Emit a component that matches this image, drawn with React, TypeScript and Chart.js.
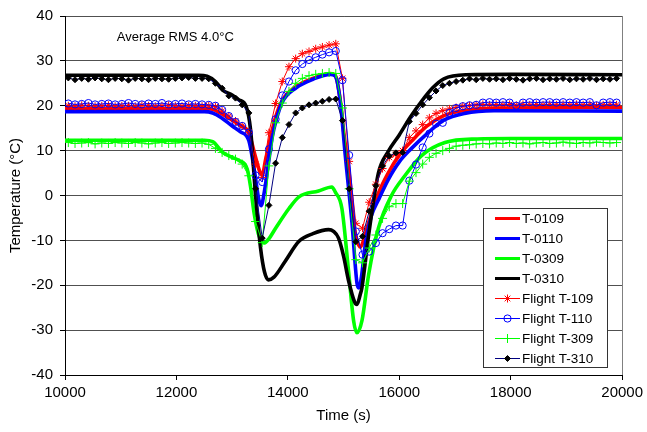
import React, { useEffect, useRef } from 'react';
import { Chart, registerables } from 'chart.js';
import { drawPoint } from 'chart.js/helpers';

Chart.register(...registerables);

const FONT = "'Liberation Sans', Arial, sans-serif";

// ---- Axis ticks ----
const xTickValues = [10000, 12000, 14000, 16000, 18000, 20000];
const yTickValues = [-40, -30, -20, -10, 0, 10, 20, 30, 40];

// ---- Model curves (thick lines) ----
const t0109Times = [10000, 12500, 12650, 12800, 13000, 13150, 13300, 13400, 13500, 13540, 13600, 13680, 13780, 13900, 14150, 14450, 14760, 14850, 14940, 15000, 15090, 15150, 15230, 15300, 15370, 15450, 15625, 15800, 16000, 16250, 16500, 16800, 17200, 17700, 20000];
const t0109Temps = [19.4, 19.4, 19.2, 18.3, 16.8, 15.6, 14.0, 9.5, 5.2, 4.6, 8.0, 12.5, 17.5, 21.2, 24.3, 26.1, 27.2, 26.8, 21.3, 14.5, 5.5, -3.0, -9.5, -11.5, -9.5, -6.0, 0.5, 5.0, 9.0, 12.5, 15.5, 17.8, 19.0, 19.5, 19.6];

const t0110Times = [10000, 12500, 12650, 12800, 13000, 13150, 13300, 13400, 13480, 13520, 13580, 13650, 13720, 13800, 13900, 14150, 14450, 14760, 14850, 14940, 15030, 15150, 15240, 15270, 15310, 15400, 15500, 15625, 15800, 16000, 16220, 16500, 16800, 17170, 17700, 20000];
const t0110Temps = [18.7, 18.7, 18.4, 17.4, 15.5, 14.2, 12.2, 5.5, -1.0, -2.3, 1.0, 7.0, 13.0, 17.2, 20.8, 24.0, 25.9, 27.0, 26.6, 21.0, 9.0, -6.0, -19.5, -20.6, -19.0, -10.0, -4.5, -1.0, 3.5, 7.5, 10.5, 13.8, 16.8, 18.3, 18.9, 18.8];

const t0309Times = [10000, 12500, 12650, 12830, 13000, 13125, 13270, 13330, 13390, 13470, 13570, 13650, 13780, 14020, 14200, 14550, 14790, 14850, 14970, 15090, 15180, 15240, 15330, 15450, 15625, 15860, 16100, 16400, 16820, 17400, 18000, 20000];
const t0309Temps = [12.3, 12.3, 12.0, 9.6, 8.5, 7.8, 5.9, 2.0, -3.6, -8.5, -10.6, -9.8, -7.3, -2.9, -0.3, 1.0, 1.9, 0.8, -2.9, -16.9, -27.9, -30.6, -27.9, -17.6, -7.3, 0.0, 4.4, 8.9, 11.8, 12.6, 12.7, 12.7];

const t0310Times = [10000, 12400, 12550, 12700, 12830, 13000, 13125, 13250, 13330, 13420, 13510, 13580, 13650, 13750, 13950, 14200, 14450, 14730, 14820, 14910, 15000, 15090, 15200, 15240, 15300, 15330, 15450, 15625, 15800, 16000, 16200, 16400, 16600, 16800, 17200, 18000, 20000];
const t0310Temps = [26.8, 26.8, 26.6, 25.4, 23.5, 22.4, 21.3, 19.9, 14.7, 0.1, -11.7, -17.0, -18.8, -18.2, -14.7, -10.2, -8.5, -7.6, -8.0, -9.5, -13.5, -19.0, -23.8, -24.3, -22.0, -20.5, -8.8, 5.0, 9.8, 13.5, 17.5, 21.0, 24.0, 26.0, 26.9, 27.0, 26.9];

// ---- Flight measurements (thin lines with markers) ----
const flightTimes = [
  10060, 10180, 10300, 10420, 10540, 10660, 10780, 10900, 11020, 11140,
  11260, 11380, 11500, 11620, 11740, 11860, 11980, 12100, 12220, 12340,
  12460, 12580, 12700, 12820, 12940, 13060, 13180, 13300, 13420, 13540,
  13660, 13780, 13900, 14020, 14140, 14260, 14380, 14500, 14620, 14740,
  14860, 14980, 15100, 15220, 15340, 15460, 15580, 15700, 15820, 15940,
  16060, 16180, 16300, 16420, 16540, 16660, 16780, 16900, 17020, 17140,
  17260, 17380, 17500, 17620, 17740, 17860, 17980, 18100, 18220, 18340,
  18460, 18580, 18700, 18820, 18940, 19060, 19180, 19300, 19420, 19540,
  19660, 19780, 19900,
];

const flightT109 = [
  20.0, 19.9, 20.1, 20.0, 19.9, 20.0, 20.1, 19.9, 20.0, 20.0,
  19.9, 20.1, 20.0, 19.9, 20.0, 20.1, 20.0, 19.9, 20.0, 20.0,
  19.9, 20.0, 19.8, 18.8, 17.7, 16.6, 15.5, 14.1, 7.0, 4.0,
  14.0, 20.5, 25.4, 28.7, 30.5, 31.6, 32.1, 32.7, 33.1, 33.5,
  33.8, 26.1, 7.6, -6.2, -7.3, -1.5, 2.5, 6.0, 8.5, 9.2,
  10.0, 12.9, 14.4, 15.8, 17.3, 18.3, 18.9, 19.3, 19.6, 19.9,
  20.0, 20.2, 20.3, 20.2, 20.3, 20.2, 20.3, 20.1, 20.3, 20.2,
  20.3, 20.2, 20.3, 20.2, 20.3, 20.2, 20.3, 20.2, 20.3, 20.0,
  20.2, 20.3, 20.2,
];

const flightT110 = [
  20.5, 20.3, 20.4, 20.6, 20.3, 20.4, 20.5, 20.3, 20.4, 20.6,
  20.4, 20.3, 20.5, 20.4, 20.6, 20.3, 20.4, 20.5, 20.3, 20.4,
  20.3, 20.2, 20.0, 19.1, 17.7, 16.4, 15.5, 14.0, 4.5, 3.0,
  10.3, 17.0, 22.3, 25.4, 27.9, 29.3, 30.2, 30.8, 31.4, 31.9,
  32.2, 25.7, 9.0, -8.0, -13.2, -12.5, -10.6, -8.4, -7.5, -6.7,
  -6.7, 3.3, 6.9, 10.7, 13.8, 16.0, 16.2, 18.4, 19.5, 19.9,
  20.1, 20.2, 20.7, 20.8, 20.7, 20.8, 20.7, 20.0, 20.7, 20.8,
  20.7, 20.8, 20.8, 20.7, 20.8, 20.7, 20.8, 20.7, 20.8, 20.1,
  20.7, 20.8, 20.7,
];

const flightT309 = [
  11.8, 11.6, 11.7, 11.8, 11.5, 11.7, 11.6, 11.8, 11.7, 11.6,
  11.8, 11.7, 11.5, 11.7, 11.8, 11.6, 11.7, 11.8, 11.7, 11.6,
  11.7, 11.4, 10.5, 9.6, 8.9, 8.1, 7.0, 4.4, -5.8, -10.5,
  6.6, 16.2, 20.6, 23.2, 25.0, 26.1, 26.7, 27.0, 27.2, 27.4,
  27.2, 19.5, 1.5, -14.3, -15.0, -11.7, -8.8, -5.1, -2.5, -1.8,
  -1.8, 3.2, 5.1, 7.0, 8.5, 9.4, 10.0, 10.5, 11.0, 11.2,
  11.3, 11.5, 11.6, 11.5, 11.7, 11.6, 11.8, 11.6, 11.7, 11.5,
  11.7, 11.8, 11.6, 11.7, 11.9, 11.7, 11.6, 11.8, 11.7, 11.9,
  11.8, 11.7, 11.8,
];

const flightT310 = [
  26.2, 25.8, 26.1, 25.9, 26.2, 26.0, 25.8, 26.1, 26.0, 25.7,
  26.1, 26.0, 25.8, 26.1, 26.0, 25.9, 26.1, 26.2, 26.3, 26.1,
  26.1, 26.0, 25.0, 23.9, 22.2, 21.7, 20.2, 18.4, 1.5, -9.5,
  -2.2, 7.2, 12.9, 15.8, 18.4, 19.5, 20.2, 20.6, 21.0, 21.4,
  21.5, 16.7, 1.5, -10.3, -9.1, -3.5, 2.2, 6.6, 8.8, 9.5,
  9.6, 16.5, 18.3, 20.2, 21.8, 23.3, 24.5, 25.0, 25.4, 25.7,
  26.0, 25.8, 26.1, 25.9, 26.0, 25.8, 26.1, 25.9, 25.7, 26.0,
  26.1, 25.8, 26.0, 25.9, 26.1, 25.8, 26.0, 25.9, 26.1, 25.8,
  26.0, 25.9, 26.1,
];

const annotationText = 'Average RMS 4.0°C';
const annotationAt = { x: 10930, y: 35.2 };

const toPoints = (xs: number[], ys: number[]) => xs.map((x, i) => ({ x, y: ys[i] }));

const modelDataset = (label: string, xs: number[], ys: number[], color: string) => ({
  label,
  data: toPoints(xs, ys),
  borderColor: color,
  backgroundColor: color,
  borderWidth: 3.6,
  pointRadius: 0,
  pointHoverRadius: 0,
  cubicInterpolationMode: 'monotone',
  fill: false,
  legendLineWidth: 3,
});

const flightDataset = (
  label: string,
  ys: number[],
  lineColor: string,
  markerColor: string,
  style: string,
  radius: number,
  filled: boolean,
) => ({
  label,
  data: toPoints(flightTimes, ys),
  borderColor: lineColor,
  backgroundColor: markerColor,
  borderWidth: 1,
  pointStyle: style,
  pointRadius: radius,
  pointHoverRadius: radius,
  pointBorderColor: markerColor,
  pointBackgroundColor: filled ? markerColor : 'rgba(0,0,0,0)',
  pointBorderWidth: 1,
  tension: 0,
  fill: false,
  legendLineWidth: 1,
});

const frameAndNotes = {
  id: 'frameAndNotes',
  beforeDatasetsDraw(chart: any) {
    const { ctx, chartArea } = chart;
    ctx.save();
    ctx.strokeStyle = '#808080';
    ctx.lineWidth = 1;
    ctx.beginPath();
    ctx.moveTo(Math.round(chartArea.right) + 0.5, chartArea.top);
    ctx.lineTo(Math.round(chartArea.right) + 0.5, chartArea.bottom);
    ctx.stroke();
    ctx.restore();
  },
  afterDraw(chart: any) {
    const { ctx, chartArea } = chart;
    const xs = chart.scales.x;
    const ys = chart.scales.y;
    ctx.save();
    // annotation
    ctx.font = `13px ${FONT}`;
    ctx.fillStyle = '#000';
    ctx.textAlign = 'left';
    ctx.textBaseline = 'middle';
    ctx.fillText(annotationText, xs.getPixelForValue(annotationAt.x), ys.getPixelForValue(annotationAt.y));

    // legend box
    const boxW = 124;
    const boxH = 159;
    const bx = Math.round(chartArea.right) - 15 - boxW;
    const by = Math.round(chartArea.top) + 192;
    ctx.fillStyle = '#fff';
    ctx.fillRect(bx, by, boxW, boxH);
    ctx.strokeStyle = '#333';
    ctx.lineWidth = 1;
    ctx.strokeRect(bx + 0.5, by + 0.5, boxW, boxH);
    const datasets = chart.data.datasets;
    datasets.forEach((ds: any, i: number) => {
      const y = by + 10.5 + i * 20;
      const x1 = bx + 12;
      const x2 = bx + 37;
      ctx.strokeStyle = ds.borderColor;
      ctx.lineWidth = ds.legendLineWidth;
      ctx.beginPath();
      ctx.moveTo(x1, y);
      ctx.lineTo(x2, y);
      ctx.stroke();
      if (ds.pointRadius > 0) {
        ctx.strokeStyle = ds.pointBorderColor;
        ctx.fillStyle = ds.pointBackgroundColor;
        ctx.lineWidth = 1;
        drawPoint(ctx, { pointStyle: ds.pointStyle, rotation: 0, radius: ds.pointRadius, borderWidth: 1 }, (x1 + x2) / 2, y);
      }
      ctx.fillStyle = '#000';
      ctx.font = `13.5px ${FONT}`;
      ctx.textAlign = 'left';
      ctx.textBaseline = 'middle';
      ctx.fillText(ds.label, x2 + 2, y + 0.5);
    });
    ctx.restore();
  },
};

export default function App() {
  const ref = useRef<HTMLCanvasElement>(null);

  useEffect(() => {
    document.body.style.margin = '0';
    const canvas = ref.current;
    if (!canvas) return;

    const datasets: any[] = [
      modelDataset('T-0109', t0109Times, t0109Temps, '#ff0000'),
      modelDataset('T-0110', t0110Times, t0110Temps, '#0000ff'),
      modelDataset('T-0309', t0309Times, t0309Temps, '#00ff00'),
      modelDataset('T-0310', t0310Times, t0310Temps, '#000000'),
      flightDataset('Flight T-109', flightT109, '#ff0000', '#ff0000', 'star', 4, false),
      flightDataset('Flight T-110', flightT110, '#0000ff', '#0000ff', 'circle', 3.6, false),
      flightDataset('Flight T-309', flightT309, '#00ff00', '#00ff00', 'cross', 4.5, false),
      flightDataset('Flight T-310', flightT310, '#000080', '#000000', 'rectRot', 3, true),
    ];
    datasets.forEach((d, i) => {
      d.order = datasets.length - 1 - i;
    });

    const chart = new Chart(canvas, {
      type: 'line',
      data: { datasets },
      plugins: [frameAndNotes],
      options: {
        responsive: false,
        animation: false,
        devicePixelRatio: 1,
        layout: { padding: { top: 12, right: 22, left: 0, bottom: 0 } },
        plugins: {
          legend: { display: false },
          tooltip: { enabled: false },
          title: { display: false },
        },
        scales: {
          x: {
            type: 'linear',
            min: 10000,
            max: 20000,
            afterFit: (scale: any) => {
              scale.height = 57;
            },
            afterBuildTicks: (scale: any) => {
              scale.ticks = xTickValues.map((v) => ({ value: v }));
            },
            ticks: {
              color: '#000',
              font: { family: FONT, size: 15 },
              padding: 4,
              maxRotation: 0,
              autoSkip: false,
              callback: (v: any) => String(v),
            },
            grid: {
              drawOnChartArea: false,
              drawTicks: true,
              tickLength: 5,
              tickColor: '#000',
            },
            border: { display: true, color: '#000', width: 1 },
            title: {
              display: true,
              text: 'Time (s)',
              color: '#000',
              font: { family: FONT, size: 15 },
              padding: { top: 0, bottom: 7 },
            },
          },
          y: {
            type: 'linear',
            min: -40,
            max: 40,
            afterFit: (scale: any) => {
              scale.width = 65;
            },
            afterBuildTicks: (scale: any) => {
              scale.ticks = yTickValues.map((v) => ({ value: v }));
            },
            ticks: {
              color: '#000',
              font: { family: FONT, size: 15 },
              padding: 7,
              autoSkip: false,
              callback: (v: any) => String(v),
            },
            grid: {
              color: '#505050',
              lineWidth: 1,
              drawTicks: true,
              tickLength: 5,
              tickColor: '#000',
            },
            border: { display: true, color: '#000', width: 1 },
            title: {
              display: true,
              text: 'Temperature (°C)',
              color: '#000',
              font: { family: FONT, size: 15 },
              padding: { top: 7, bottom: 0 },
            },
          },
        },
      } as any,
    });

    return () => {
      chart.destroy();
    };
  }, []);

  return <canvas ref={ref} width={647} height={432} style={{ display: 'block', width: 647, height: 432 }} />;
}
